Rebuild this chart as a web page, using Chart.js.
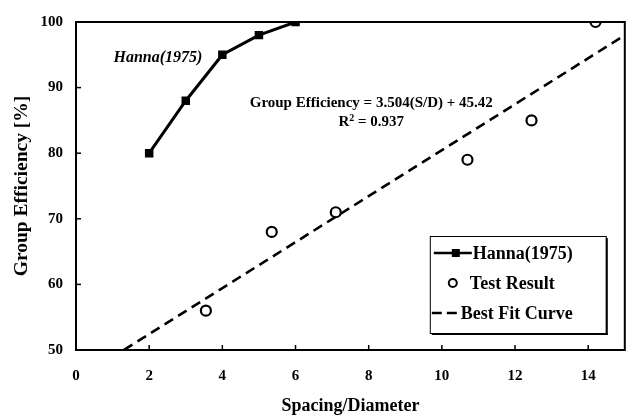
<!DOCTYPE html>
<html>
<head>
<meta charset="utf-8">
<script src="https://cdn.jsdelivr.net/npm/chart.js@4/dist/chart.umd.min.js"></script>
<style>
  html, body { margin: 0; padding: 0; background: #fff; }
  #wrap { width: 632px; height: 416px; }
</style>
</head>
<body>
<div id="wrap"><canvas id="c" width="632" height="416"></canvas></div>
<script>
// Hanna (1975) group efficiency curve
const spacingHanna = [2, 3, 4, 5, 6];
const efficiencyHanna = [80, 88, 95, 98, 100];

// Measured test results
const spacingTest = [3.55, 5.35, 7.1, 10.7, 12.45, 14.2];
const efficiencyTest = [56, 68, 71, 79, 85, 100];

// Linear best fit: efficiency = slope * (S/D) + intercept
const fitSlope = 3.504;
const fitIntercept = 45.42;
const fitR2 = 0.937;
const fitRange = [1.31, 15];

// Axis ticks
const xTicks = [0, 2, 4, 6, 8, 10, 12, 14];
const yTicks = [50, 60, 70, 80, 90, 100];

const SERIF = '"Liberation Serif", "Times New Roman", serif';

const hannaPoints = spacingHanna.map((x, i) => ({ x, y: efficiencyHanna[i] }));
const testPoints = spacingTest.map((x, i) => ({ x, y: efficiencyTest[i] }));
const fitPoints = fitRange.map(x => ({ x, y: fitSlope * x + fitIntercept }));

function line(ctx, x1, y1, x2, y2) {
  ctx.beginPath(); ctx.moveTo(x1, y1); ctx.lineTo(x2, y2); ctx.stroke();
}

const framePlugin = {
  id: 'frame',
  afterDraw(chart) {
    const { ctx, chartArea: a, scales: { x, y } } = chart;
    ctx.save();
    ctx.strokeStyle = '#000';
    ctx.fillStyle = '#000';

    // plot frame
    ctx.lineWidth = 2;
    ctx.strokeRect(a.left, a.top, a.right - a.left, a.bottom - a.top);

    // inward tick marks
    ctx.lineWidth = 1.5;
    x.ticks.forEach(t => {
      const px = x.getPixelForValue(t.value);
      line(ctx, px, a.bottom, px, a.bottom - 5);
    });
    y.ticks.forEach(t => {
      const py = y.getPixelForValue(t.value);
      line(ctx, a.left, py, a.left + 5, py);
    });

    // curve annotation
    ctx.textBaseline = 'middle';
    ctx.textAlign = 'center';
    ctx.font = 'italic bold 16px ' + SERIF;
    ctx.fillText('Hanna(1975)', x.getPixelForValue(2.24), y.getPixelForValue(94.5));

    // regression equation
    ctx.font = 'bold 15px ' + SERIF;
    const eq = 'Group Efficiency = ' + fitSlope.toFixed(3) + '(S/D) + ' + fitIntercept.toFixed(2);
    const ex = x.getPixelForValue(8.07);
    ctx.fillText(eq, ex, y.getPixelForValue(87.7));

    const ry = y.getPixelForValue(84.7);
    const partA = 'R', partB = ' = ' + fitR2.toFixed(3);
    ctx.font = 'bold 15px ' + SERIF;
    const wA = ctx.measureText(partA).width;
    const wB = ctx.measureText(partB).width;
    ctx.font = 'bold 10px ' + SERIF;
    const wS = ctx.measureText('2').width;
    let sx = ex - (wA + wS + wB) / 2;
    ctx.textAlign = 'left';
    ctx.font = 'bold 15px ' + SERIF;
    ctx.fillText(partA, sx, ry);
    ctx.font = 'bold 10px ' + SERIF;
    ctx.fillText('2', sx + wA, ry - 4);
    ctx.font = 'bold 15px ' + SERIF;
    ctx.fillText(partB, sx + wA + wS, ry);

    // legend box
    const bw = 176, bh = 97;
    const bx = a.right - 19 - bw, by = a.bottom - 17 - bh;
    ctx.fillStyle = '#fff';
    ctx.fillRect(bx, by, bw, bh);
    ctx.fillStyle = '#000';
    ctx.fillRect(bx + 2, by + bh, bw, 2);
    ctx.fillRect(bx + bw, by + 2, 2, bh);
    ctx.lineWidth = 1;
    ctx.strokeRect(bx + 0.5, by + 0.5, bw, bh);

    const ds = chart.data.datasets;
    const rows = [by + 17, by + 47, by + 77];
    ctx.font = 'bold 18px ' + SERIF;
    ctx.textAlign = 'left';
    ctx.textBaseline = 'middle';

    // row 1: line with square
    ctx.lineWidth = 2.5;
    line(ctx, bx + 4, rows[0], bx + 42, rows[0]);
    ctx.fillRect(bx + 22, rows[0] - 4, 8, 8);
    ctx.fillText(ds[0].label, bx + 43, rows[0] + 1);

    // row 2: open circle
    ctx.lineWidth = 2;
    ctx.beginPath(); ctx.arc(bx + 23, rows[1], 4, 0, Math.PI * 2); ctx.stroke();
    ctx.fillText(ds[1].label, bx + 40, rows[1] + 1);

    // row 3: dashed line
    ctx.lineWidth = 2.5;
    line(ctx, bx + 2, rows[2], bx + 12, rows[2]);
    line(ctx, bx + 17, rows[2], bx + 27, rows[2]);
    ctx.fillText(ds[2].label, bx + 31, rows[2] + 1);

    ctx.restore();
  }
};

new Chart(document.getElementById('c'), {
  type: 'scatter',
  data: {
    datasets: [
      {
        label: 'Hanna(1975)',
        data: hannaPoints,
        showLine: true,
        borderColor: '#000',
        backgroundColor: '#000',
        borderWidth: 3,
        pointStyle: 'rect',
        pointRadius: 6,
        pointBorderWidth: 0,
        order: 1
      },
      {
        label: 'Test Result',
        data: testPoints,
        showLine: false,
        borderColor: '#000',
        backgroundColor: 'rgba(0,0,0,0)',
        pointStyle: 'circle',
        pointRadius: 5,
        pointBorderWidth: 2.2,
        order: 0
      },
      {
        label: 'Best Fit Curve',
        data: fitPoints,
        showLine: true,
        borderColor: '#000',
        borderWidth: 2.6,
        borderDash: [10, 6],
        pointRadius: 0,
        order: 2
      }
    ]
  },
  options: {
    responsive: false,
    animation: false,
    devicePixelRatio: 1,
    layout: { padding: { top: 17, right: 6, left: 0, bottom: 0 } },
    plugins: { legend: { display: false }, tooltip: { enabled: false } },
    scales: {
      x: {
        type: 'linear',
        min: 0, max: 15,
        afterBuildTicks: s => { s.ticks = xTicks.map(v => ({ value: v })); },
        afterFit: s => { s.height = 66; },
        grid: { display: false, drawTicks: false },
        border: { display: false },
        ticks: { color: '#000', padding: 17, font: { family: SERIF, size: 15, weight: 'bold' } },
        title: {
          display: true, text: 'Spacing/Diameter', color: '#000',
          padding: 0,
          font: { family: SERIF, size: 18, weight: 'bold', lineHeight: 1.1 }
        }
      },
      y: {
        type: 'linear',
        min: 50, max: 100,
        afterBuildTicks: s => { s.ticks = yTicks.map(v => ({ value: v })); },
        afterFit: s => { s.width = 76; },
        grid: { display: false, drawTicks: false },
        border: { display: false },
        ticks: { color: '#000', padding: 13, font: { family: SERIF, size: 15, weight: 'bold' } },
        title: {
          display: true, text: 'Group Efficiency [%]', color: '#000',
          padding: { top: 12, bottom: 0 },
          font: { family: SERIF, size: 19.5, weight: 'bold', lineHeight: 1 }
        }
      }
    }
  },
  plugins: [framePlugin]
});
</script>
</body>
</html>
